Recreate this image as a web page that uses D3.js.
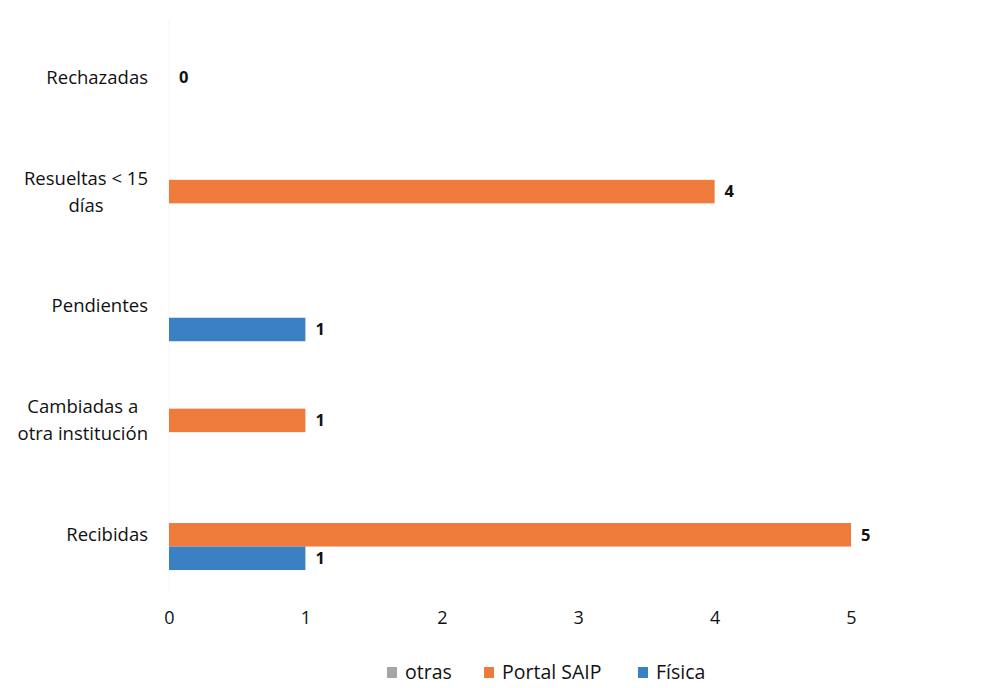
<!DOCTYPE html>
<html>
<head>
<meta charset="utf-8">
<script src="https://cdn.jsdelivr.net/npm/d3@7.9.0/dist/d3.min.js"></script>
<style>
  body { margin: 0; background: #fff; }
  svg { display: block; font-family: 'Open Sans', sans-serif; }
</style>
</head>
<body>
<div id="chart"></div>
<script>
const categories = ['Rechazadas', 'Resueltas < 15 días', 'Pendientes', 'Cambiadas a otra institución', 'Recibidas'];
const categoryLines = [['Rechazadas'], ['Resueltas < 15', 'días'], ['Pendientes'], ['Cambiadas a', 'otra institución'], ['Recibidas']];
const seriesNames = ['otras', 'Portal SAIP', 'Física'];
const otras = [null, null, null, null, null];
const portalSaip = [0, 4, null, 1, 5];
const fisica = [null, null, 1, null, 1];
const xTicks = [0, 1, 2, 3, 4, 5];
const colors = ['#a5a5a5', '#ee7a3b', '#3a80c3'];

const W = 981, H = 688;
const svg = d3.select('#chart').append('svg').attr('width', W).attr('height', H);

const x = d3.scaleLinear().domain([0, 5]).range([169, 851]);
const y = d3.scaleBand().domain(categories).range([20, 592]).paddingInner(0.384).paddingOuter(0.192);
const ySub = d3.scaleBand().domain(seriesNames).range([0, y.bandwidth()]);

// faint value axis line
svg.append('line')
  .attr('x1', x(0)).attr('x2', x(0))
  .attr('y1', 20).attr('y2', 592)
  .attr('stroke', '#f4f4f4').attr('stroke-width', 1);

const allSeries = [otras, portalSaip, fisica];
const bars = [];
allSeries.forEach((vals, si) => {
  vals.forEach((v, ci) => {
    if (v !== null) bars.push({ s: seriesNames[si], si, c: categories[ci], v });
  });
});

svg.append('g').selectAll('rect')
  .data(bars.filter(d => d.v > 0))
  .join('rect')
  .attr('x', x(0))
  .attr('y', d => y(d.c) + ySub(d.s))
  .attr('width', d => x(d.v) - x(0))
  .attr('height', ySub.bandwidth())
  .attr('fill', d => colors[d.si]);

svg.append('g').selectAll('text')
  .data(bars)
  .join('text')
  .attr('x', d => x(d.v) + 10)
  .attr('y', d => y(d.c) + ySub(d.s) + ySub.bandwidth() / 2)
  .attr('dy', '0.35em')
  .attr('font-size', 16.5)
  .attr('font-weight', 'bold')
  .attr('fill', '#111')
  .text(d => d.v);

// category labels (multi-line, centered block, right edge at 148)
const catG = svg.append('g');
categories.forEach((c, i) => {
  const lines = categoryLines[i];
  const cy = y(c) + y.bandwidth() / 2;
  const t = catG.append('text')
    .attr('font-size', 18.5)
    .attr('fill', '#111')
    .attr('text-anchor', 'middle');
  const spans = lines.map((l, li) => t.append('tspan')
    .attr('y', cy + (li - (lines.length - 1) / 2) * 27)
    .attr('dy', '0.35em')
    .text(l));
  const maxW = d3.max(spans, s => s.node().getComputedTextLength());
  spans.forEach(s => s.attr('x', 148 - maxW / 2));
});

// x axis tick labels
const xAxis = d3.axisBottom(x).tickValues(xTicks).tickSize(0).tickPadding(0).tickFormat(d3.format('d'));
const xg = svg.append('g').attr('transform', 'translate(0,611)').call(xAxis);
xg.select('.domain').remove();
xg.selectAll('text')
  .attr('font-size', 18)
  .attr('font-family', "'Open Sans', sans-serif")
  .attr('fill', '#111');

// legend
const legendX = [387, 484, 638];
const lg = svg.append('g');
seriesNames.forEach((s, i) => {
  lg.append('rect')
    .attr('x', legendX[i]).attr('y', 667)
    .attr('width', 10).attr('height', 11)
    .attr('fill', colors[i]);
  lg.append('text')
    .attr('x', legendX[i] + 18).attr('y', 672)
    .attr('dy', '0.35em')
    .attr('font-size', 19.5)
    .attr('fill', '#111')
    .text(s);
});
</script>
</body>
</html>
